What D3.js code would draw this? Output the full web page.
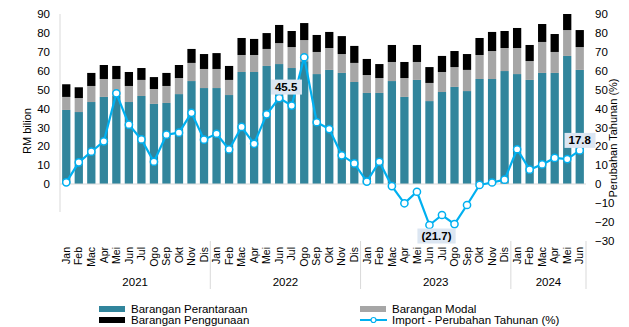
<!DOCTYPE html>
<html>
<head>
<meta charset="utf-8">
<script src="https://cdn.jsdelivr.net/npm/d3@7"></script>
<style>
  body { margin: 0; background: #fff; }
  svg { font-family: "Liberation Sans", Arial, sans-serif; }
</style>
</head>
<body>
<div id="chart"></div>
<script>
// months Jan 2021 .. Jun 2024
const bulan = ["Jan","Feb","Mac","Apr","Mei","Jun","Jul","Ogo","Sep","Okt","Nov","Dis"]
const tahun = ["2021", "2022", "2023", "2024"]
const bulanPerTahun = [12, 12, 12, 6]

// RM bilion
const perantaraan = [39.2,38.1,43.4,46.1,46.6,43.4,46.6,42.4,42.9,47.6,54.5,50.8,
                     50.8,47.1,59.3,59.3,62.5,63.5,61.4,65.0,58.2,60.4,58.8,54.0,
                     48.2,48.2,54.5,46.1,55.1,43.9,48.7,51.4,49.2,55.6,55.6,59.8,
                     58.2,55.1,58.8,58.8,67.8,60.4]
const modal =       [6.9,7.4,8.5,9.5,9.0,8.5,8.5,7.9,9.0,8.5,9.6,10.1,
                     10.1,8.0,9.0,9.0,9.0,11.1,11.1,11.2,11.7,11.6,10.0,10.1,
                     9.5,7.9,10.1,10.0,9.5,9.6,10.6,10.5,11.2,12.7,14.8,12.2,
                     13.8,10.0,16.4,11.1,13.7,12.1]
const penggunaan =  [6.7,5.7,6.9,7.4,6.9,7.4,6.3,6.3,6.9,6.9,7.4,7.9,
                     8.4,7.4,9.0,8.5,8.4,9.6,8.5,9.0,9.0,8.5,9.5,9.0,
                     8.5,7.4,9.0,8.5,9.0,8.4,8.5,8.5,8.4,9.0,10.1,9.0,
                     10.6,8.5,9.5,9.5,8.5,9.0]
// Import - perubahan tahunan (%)
const perubahan =   [0.9,11.5,17.1,22.6,48.0,31.4,23.6,11.8,26.1,27.2,37.7,23.5,
                     26.6,18.3,30.2,21.3,36.9,45.5,41.5,67.1,32.7,29.1,15.2,10.9,
                     1.3,11.8,-1.1,-10.2,-4.1,-21.7,-16.4,-21.2,-11.1,-0.5,0.8,2.3,
                     18.4,7.6,10.4,13.8,13.2,17.8]

const ticksKiri = [0,10,20,30,40,50,60,70,80,90]
const ticksKanan = [-30,-20,-10,0,10,20,30,40,50,60,70,80,90]

// labelled points: index, text, box offset
const label = [
  {i: 17, text: "45.5", dx: 7, dy: -11},
  {i: 29, text: "(21.7)", dx: 7, dy: 11},
  {i: 41, text: "17.8", dx: 0, dy: -10}
]

const width = 629, height = 327
const warna = {perantaraan: "#31859c", modal: "#a6a6a6", penggunaan: "#000000", garis: "#00b0f0"}

// build rows
let data = []
let k = 0
bulanPerTahun.forEach((n, t) => {
  for (let m = 0; m < n; m++) {
    data.push({
      key: k,
      bulan: bulan[m],
      tahun: tahun[t],
      perantaraan: perantaraan[k],
      modal: modal[k],
      penggunaan: penggunaan[k],
      perubahan: perubahan[k]
    })
    k++
  }
})

const svg = d3.select("#chart").append("svg")
  .attr("width", width)
  .attr("height", height)

const xScale = d3.scaleBand()
  .domain(data.map(d => d.key))
  .range([60, 586])
  .paddingInner(0.34)
  .paddingOuter(0.17)

const yScale = d3.scaleLinear().domain([0, 90]).range([184, 14])
const yKanan = d3.scaleLinear().domain([-30, 90]).range([240.7, 14])

// stacked bars
const seri = ["perantaraan", "modal", "penggunaan"]
const stack = d3.stack().keys(seri)(data)

svg.append("g").selectAll("g")
  .data(stack)
  .join("g")
  .attr("fill", s => warna[s.key])
  .selectAll("rect")
  .data(s => s)
  .join("rect")
  .attr("x", d => xScale(d.data.key))
  .attr("width", xScale.bandwidth())
  .attr("y", d => yScale(d[1]))
  .attr("height", d => yScale(d[0]) - yScale(d[1]))

// zero line and left axis line
svg.append("line")
  .attr("x1", 60).attr("x2", 586)
  .attr("y1", yScale(0)).attr("y2", yScale(0))
  .attr("stroke", "#d9d9d9").attr("stroke-width", 1)
svg.append("line")
  .attr("x1", 60).attr("x2", 60)
  .attr("y1", 14).attr("y2", 212)
  .attr("stroke", "#d9d9d9").attr("stroke-width", 1)

// left axis
const axKiri = svg.append("g")
  .attr("transform", "translate(60,0)")
  .call(d3.axisLeft(yScale).tickValues(ticksKiri).tickSize(0).tickPadding(10))
axKiri.select(".domain").remove()
axKiri.selectAll("text").attr("font-size", 11.5).attr("fill", "#000").attr("font-family", null)

// right axis
const axKanan = svg.append("g")
  .attr("transform", "translate(586,0)")
  .call(d3.axisRight(yKanan).tickValues(ticksKanan).tickSize(0).tickPadding(9))
axKanan.select(".domain").remove()
axKanan.selectAll("text").attr("font-size", 11.5).attr("fill", "#000").attr("font-family", null)

// month labels
const axBulan = svg.append("g")
  .attr("transform", "translate(0,241)")
  .call(d3.axisBottom(xScale).tickSize(0).tickFormat(k => data[k].bulan))
axBulan.select(".domain").remove()
axBulan.selectAll("text")
  .attr("transform", "rotate(-90)")
  .attr("text-anchor", "end")
  .attr("x", -6)
  .attr("y", 0)
  .attr("dy", "0.35em")
  .attr("font-size", 10.5)
  .attr("fill", "#000")
  .attr("font-family", null)

// year groups
let mula = 0
tahun.forEach((t, i) => {
  const akhir = mula + bulanPerTahun[i] - 1
  const x0 = xScale(mula) - xScale.step() * xScale.paddingInner() / 2
  const x1 = xScale(akhir) + xScale.bandwidth() + xScale.step() * xScale.paddingInner() / 2
  svg.append("text")
    .attr("x", (x0 + x1) / 2)
    .attr("y", 286)
    .attr("text-anchor", "middle")
    .attr("font-size", 11.5)
    .text(t)
  svg.append("line")
    .attr("x1", x1).attr("x2", x1)
    .attr("y1", 241).attr("y2", 289)
    .attr("stroke", "#d9d9d9")
  mula = akhir + 1
})

// line series
const cx = d => xScale(d.key) + xScale.bandwidth() / 2
const garis = d3.line()
  .x(cx)
  .y(d => yKanan(d.perubahan))

svg.append("path")
  .datum(data)
  .attr("fill", "none")
  .attr("stroke", warna.garis)
  .attr("stroke-width", 2.2)
  .attr("d", garis)

svg.append("g").selectAll("circle")
  .data(data)
  .join("circle")
  .attr("cx", cx)
  .attr("cy", d => yKanan(d.perubahan))
  .attr("r", 3.6)
  .attr("fill", "#fff")
  .attr("stroke", warna.garis)
  .attr("stroke-width", 1.5)

// data labels
label.forEach(l => {
  const d = data[l.i]
  const g = svg.append("g")
    .attr("transform", `translate(${cx(d) + l.dx},${yKanan(d.perubahan) + l.dy})`)
  const t = g.append("text")
    .attr("text-anchor", "middle")
    .attr("dy", "0.35em")
    .attr("font-size", 11.5)
    .attr("font-weight", "bold")
    .text(l.text)
  const b = t.node().getBBox()
  g.insert("rect", "text")
    .attr("x", b.x - 4).attr("y", -7.5)
    .attr("width", b.width + 8).attr("height", 15)
    .attr("fill", "#dce6f2")
})

// axis titles
svg.append("text")
  .attr("transform", "translate(31,131) rotate(-90)")
  .attr("text-anchor", "middle")
  .attr("font-size", 11)
  .text("RM bilion")
svg.append("text")
  .attr("transform", "translate(617,138) rotate(-90)")
  .attr("text-anchor", "middle")
  .attr("font-size", 11)
  .text("Perubahan Tahunan (%)")

// legend
const legenda = [
  {nama: "Barangan Perantaraan", jenis: "perantaraan", x: 99, y: 309},
  {nama: "Barangan Modal", jenis: "modal", x: 360, y: 309},
  {nama: "Barangan Penggunaan", jenis: "penggunaan", x: 99, y: 320},
  {nama: "Import - Perubahan Tahunan (%)", jenis: "garis", x: 360, y: 320}
]
const lg = svg.append("g").selectAll("g")
  .data(legenda)
  .join("g")
  .attr("transform", d => `translate(${d.x},${d.y})`)

lg.filter(d => d.jenis !== "garis").append("rect")
  .attr("x", 0).attr("y", -3)
  .attr("width", 26).attr("height", 6)
  .attr("fill", d => warna[d.jenis])
lg.filter(d => d.jenis === "garis").append("line")
  .attr("x1", 0).attr("x2", 27)
  .attr("stroke", warna.garis).attr("stroke-width", 2)
lg.filter(d => d.jenis === "garis").append("circle")
  .attr("cx", 13.5).attr("r", 2.5)
  .attr("fill", "#fff").attr("stroke", warna.garis).attr("stroke-width", 1.2)
lg.append("text")
  .attr("x", 32)
  .attr("dy", "0.35em")
  .attr("font-size", 11.5)
  .text(d => d.nama)
</script>
</body>
</html>
